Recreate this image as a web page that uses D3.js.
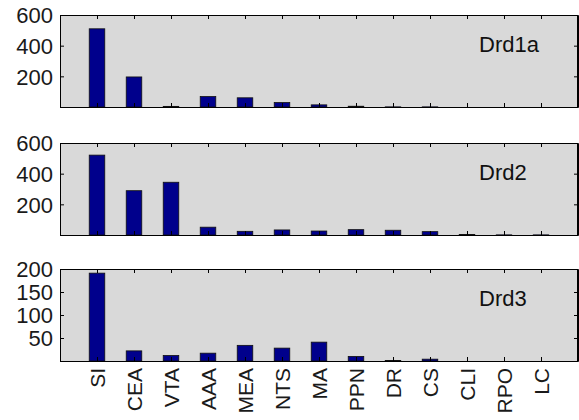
<!DOCTYPE html>
<html>
<head>
<meta charset="utf-8">
<script src="https://cdn.jsdelivr.net/npm/d3@7"></script>
<style>
    body { margin: 0; background: #fff; }
    svg { display: block; }
    .axis path, .axis line { stroke: #000; }
    .axis text { font-family: "Liberation Sans", Arial, sans-serif; font-size: 22px; fill: #1a1a1a; }
</style>
</head>
<body>
<script>
// categories along the x axis (brain regions)
var regions = ["SI", "CEA", "VTA", "AAA", "MEA", "NTS", "MA", "PPN", "DR",
    "CS", "CLI", "RPO", "LC"];

// one series per receptor
var drd1aValues = [510, 196, 4, 68, 60, 29, 14, 5, 1, 1, 0, 0, 0];
var drd2Values = [521, 289, 344, 51, 24, 33, 26, 35, 31, 22, 3, 1, 1];
var drd3Values = [191, 22, 12, 17, 34, 28, 41, 10, 1, 4, 0, 0, 0];

// y tick labels per panel
var drd1aTicks = [200, 400, 600];
var drd2Ticks = [200, 400, 600];
var drd3Ticks = [50, 100, 150, 200];

var panels = [
    {name: "Drd1a", values: drd1aValues, ticks: drd1aTicks, max: 600},
    {name: "Drd2", values: drd2Values, ticks: drd2Ticks, max: 600},
    {name: "Drd3", values: drd3Values, ticks: drd3Ticks, max: 200}
];

var width = 579, height = 420;
var left = 60, right = 578;
var tops = [15, 143, 269], panelHeight = 92;

var svg = d3.select("body").append("svg")
    .attr("width", width)
    .attr("height", height);

// x: index 1..13 with a margin on both sides (xlim 0..14)
var xScale = d3.scaleLinear()
    .domain([0, regions.length + 1])
    .range([left, right]);
var barWidth = (xScale(1) - xScale(0)) * 0.42;
var tickIdx = regions.map(function(d, i) { return i + 1; });

panels.forEach(function(p, k) {
    var top = tops[k], bottom = top + panelHeight;
    var yScale = d3.scaleLinear().domain([0, p.max]).range([bottom, top]);
    var g = svg.append("g");

    // grey plot area with the frame
    g.append("rect")
        .attr("x", left).attr("y", top)
        .attr("width", right - left).attr("height", panelHeight)
        .attr("fill", "#d9d9d9");

    // bars
    g.selectAll("rect.bar")
        .data(p.values)
        .enter()
        .append("rect")
        .attr("class", "bar")
        .attr("x", function(d, i) { return xScale(i + 1) - barWidth / 2; })
        .attr("y", function(d) { return yScale(d); })
        .attr("width", barWidth)
        .attr("height", function(d) { return bottom - yScale(d); })
        .attr("fill", "#00008c")
        .attr("stroke", "#111")
        .attr("stroke-width", 0.8);

    // left axis with labels, inner ticks
    g.append("g")
        .attr("class", "axis")
        .attr("transform", "translate(" + left + ",0)")
        .call(d3.axisLeft(yScale).tickValues(p.ticks)
            .tickSizeInner(-4).tickSizeOuter(0).tickPadding(7))
        .selectAll("text").attr("dy", "0.36em");

    // right axis, ticks only
    g.append("g")
        .attr("class", "axis")
        .attr("transform", "translate(" + right + ",0)")
        .call(d3.axisRight(yScale).tickValues(p.ticks)
            .tickSizeInner(-4).tickSizeOuter(0).tickFormat(""));

    // top axis, ticks only
    g.append("g")
        .attr("class", "axis")
        .attr("transform", "translate(0," + top + ")")
        .call(d3.axisTop(xScale).tickValues(tickIdx)
            .tickSizeInner(-4).tickSizeOuter(0).tickFormat(""));

    // bottom axis, labels only on the last panel
    var xAxis = d3.axisBottom(xScale).tickValues(tickIdx)
        .tickSizeInner(-4).tickSizeOuter(0)
        .tickFormat(function(d) { return k === 2 ? regions[d - 1] : ""; });
    var xg = g.append("g")
        .attr("class", "axis")
        .attr("transform", "translate(0," + bottom + ")")
        .call(xAxis);
    if (k === 2) {
        xg.selectAll("text")
            .attr("transform", "rotate(-90)")
            .attr("x", -7)
            .attr("y", 0)
            .attr("dy", "0.36em")
            .style("font-size", "21px")
            .style("text-anchor", "end");
    }

    // frame on top of everything
    g.append("rect")
        .attr("x", left + 0.5).attr("y", top + 0.5)
        .attr("width", right - left - 1).attr("height", panelHeight)
        .attr("fill", "none")
        .attr("stroke", "#000");

    // panel name
    g.append("text")
        .attr("x", 479)
        .attr("y", top + 37)
        .attr("font-family", "Liberation Sans, Arial, sans-serif")
        .attr("font-size", "22px")
        .attr("fill", "#111")
        .text(p.name);
});
</script>
</body>
</html>
